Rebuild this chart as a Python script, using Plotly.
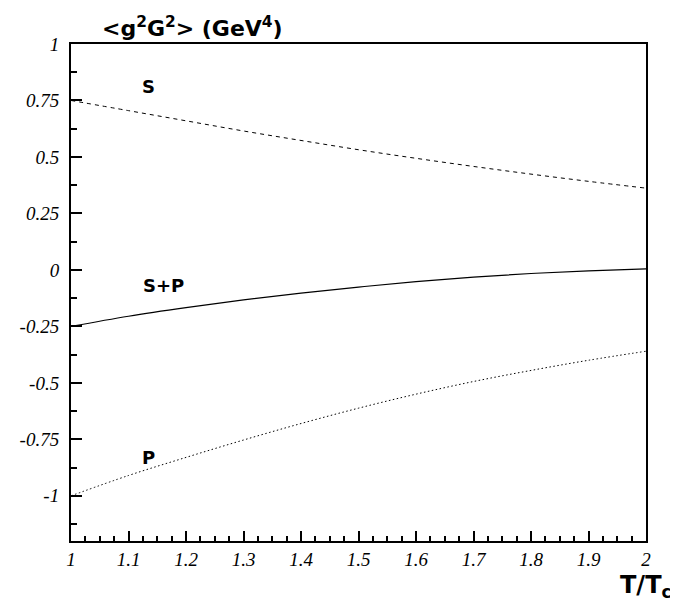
import plotly.graph_objects as go

T = [1.0, 1.1, 1.2, 1.3, 1.4, 1.5, 1.6, 1.7, 1.8, 1.9, 2.0]
S = [0.75, 0.705, 0.66, 0.615, 0.573, 0.532, 0.494, 0.458, 0.424, 0.392, 0.362]
SP = [-0.25, -0.205, -0.167, -0.133, -0.103, -0.076, -0.052, -0.032, -0.016, -0.004, 0.005]
P = [-1.0, -0.91, -0.83, -0.753, -0.68, -0.612, -0.55, -0.494, -0.445, -0.40, -0.36]

xticks = [1, 1.1, 1.2, 1.3, 1.4, 1.5, 1.6, 1.7, 1.8, 1.9, 2]
xtick_labels = ["1", "1.1", "1.2", "1.3", "1.4", "1.5", "1.6", "1.7", "1.8", "1.9", "2"]
yticks = [-1, -0.75, -0.5, -0.25, 0, 0.25, 0.5, 0.75, 1]
ytick_labels = ["-1", "-0.75", "-0.5", "-0.25", "0", "0.25", "0.5", "0.75", "1"]

fig = go.Figure()
fig.add_trace(go.Scatter(x=T, y=S, mode="lines", line=dict(color="black", width=1, dash="4px,4px", shape="spline")))
fig.add_trace(go.Scatter(x=T, y=SP, mode="lines", line=dict(color="black", width=1.2, shape="spline")))
fig.add_trace(go.Scatter(x=T, y=P, mode="lines", line=dict(color="black", width=1, dash="1.5px,2.5px", shape="spline")))

lab_font = dict(family="DejaVu Sans", size=18, color="black")
for txt, x, y in [("<b>S</b>", 1.135, 0.81), ("<b>S+P</b>", 1.16, -0.07), ("<b>P</b>", 1.135, -0.83)]:
    fig.add_annotation(x=x, y=y, text=txt, showarrow=False, font=lab_font)

fig.add_annotation(xref="paper", yref="paper", x=0.05, y=1.0, yshift=1, xanchor="left", yanchor="bottom",
                   text="<b>&lt;g<sup>2</sup>G<sup>2</sup>&gt; (GeV<sup>4</sup>)</b>", showarrow=False,
                   font=dict(family="DejaVu Sans", size=22, color="black"))
fig.add_annotation(xref="paper", yref="paper", x=1.0, y=0, xshift=27, yshift=-28, xanchor="right", yanchor="top",
                   text="<b>T/T<sub>c</sub></b>", showarrow=False,
                   font=dict(family="DejaVu Sans", size=24, color="black"))

tickfont = dict(family="Liberation Serif", size=19, color="black")
fig.update_xaxes(range=[1, 2], tickvals=xticks, ticktext=["<i>%s</i>" % t for t in xtick_labels],
                 ticks="inside", ticklen=10, tickwidth=2, tickcolor="black",
                 minor=dict(dtick=0.025, ticks="inside", ticklen=5, tickwidth=2, tickcolor="black"),
                 showline=True, linewidth=2, linecolor="black", mirror=True,
                 showgrid=False, zeroline=False, tickfont=tickfont)
fig.update_yaxes(range=[-1.2, 1], tickvals=yticks, ticktext=["<i>%s</i>" % t for t in ytick_labels],
                 ticks="inside", ticklen=11, tickwidth=2, tickcolor="black",
                 minor=dict(tickvals=[-1.125, -0.875, -0.625, -0.375, -0.125, 0.125, 0.375, 0.625, 0.875],
                            ticks="inside", ticklen=6, tickwidth=2, tickcolor="black"),
                 showline=True, linewidth=2, linecolor="black", mirror=True,
                 showgrid=False, zeroline=False, tickfont=tickfont, ticklabelstandoff=6)

fig.update_layout(width=670, height=596, margin=dict(l=56, r=32, t=36, b=63),
                  plot_bgcolor="white", paper_bgcolor="white", showlegend=False)
fig.write_html("out.html")
